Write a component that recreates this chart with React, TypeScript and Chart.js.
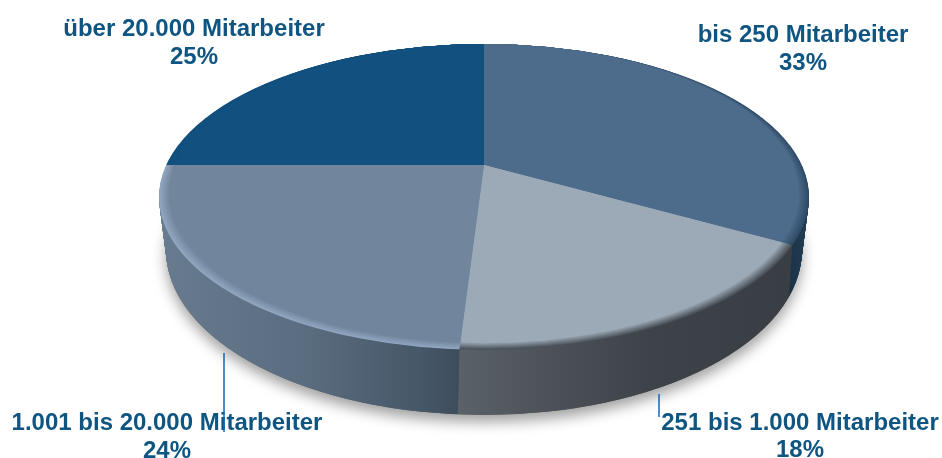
import React, { useEffect, useRef } from "react";
import { Chart, registerables } from "chart.js";

Chart.register(...registerables);

const categories = ["bis 250 Mitarbeiter", "251 bis 1.000 Mitarbeiter", "1.001 bis 20.000 Mitarbeiter", "über 20.000 Mitarbeiter"];
const shares = [33, 18, 24, 25];
const percentLabels = ["33%", "18%", "24%", "25%"];
const topColors = ["#4d6b8a", "#9caab8", "#71869c", "#12507f"];
const bevelColors = ["#2f4c68", "#4a5158", "#90a6c0", "#12507f"];
const wallStops: [number, string][][] = [
  [[780, "#1a2e3e"], [810, "#223e56"]],
  [[458, "#5a6168"], [560, "#4b5056"], [650, "#3d4349"], [790, "#383e44"]],
  [[158, "#687c8f"], [300, "#5b6d80"], [420, "#465768"], [458, "#3e4d5b"]],
  [[158, "#12507f"], [200, "#12507f"]],
];

const W = 942;
const H = 458;
const apex = { x: 484, y: 165 };
const squash = 2.12;
const topE = { x: 484, y: 197, rx: 325, ry: 153 };
const botE = { x: 484, y: 250, rx: 318, ry: 165 };
const bevelInset = 10;
const bevelLift = 3.5;
const labelPlaces = [
  { x: 803, y: 42, dy: 28 },
  { x: 800, y: 430, dy: 27 },
  { x: 167, y: 430, dy: 28 },
  { x: 194, y: 36, dy: 28 },
];
const leaders = [
  { x: 224, y1: 353, y2: 432 },
  { x: 659, y1: 394, y2: 417 },
];

function ellipsePath(ctx: CanvasRenderingContext2D, e: { x: number; y: number; rx: number; ry: number }) {
  ctx.beginPath();
  ctx.ellipse(e.x, e.y, e.rx, e.ry, 0, 0, Math.PI * 2);
}

function toLocal(chart: any) {
  const arc = chart.getDatasetMeta(0).data[0];
  return { cx: arc.x, cy: arc.y };
}

function place(ctx: CanvasRenderingContext2D, chart: any, dy: number) {
  const { cx, cy } = toLocal(chart);
  ctx.translate(apex.x, apex.y + dy);
  ctx.scale(squash, 1);
  ctx.translate(-cx, -cy);
}

function drawArcs(ctx: CanvasRenderingContext2D, chart: any, fills: (string | CanvasGradient)[]) {
  chart.getDatasetMeta(0).data.forEach((arc: any, i: number) => {
    const saved = arc.options;
    arc.options = { ...saved, backgroundColor: fills[i] };
    arc.draw(ctx);
    arc.options = saved;
  });
}

function mix(a: string, b: string, t: number) {
  const p = (s: string, i: number) => parseInt(s.slice(i, i + 2), 16);
  const c = [1, 3, 5].map((i) => Math.round(p(a, i) + (p(b, i) - p(a, i)) * t));
  return `rgb(${c[0]},${c[1]},${c[2]})`;
}

const solidPlugin = {
  id: "solid",
  beforeDatasetsDraw(chart: any) {
    const ctx: CanvasRenderingContext2D = chart.ctx;
    const { cx } = toLocal(chart);
    // ground shadow
    ctx.save();
    ctx.shadowColor = "rgba(0,0,0,0.38)";
    ctx.shadowBlur = 14;
    ctx.shadowOffsetY = 7;
    ctx.fillStyle = "#555";
    ellipsePath(ctx, botE);
    ctx.fill();
    ctx.restore();

    // side wall
    const wallFills = wallStops.map((stops) => {
      const a = stops[0][0];
      const b = stops[stops.length - 1][0];
      const g = ctx.createLinearGradient(cx + (a - apex.x) / squash, 0, cx + (b - apex.x) / squash, 0);
      stops.forEach(([x, c]) => g.addColorStop((x - a) / (b - a), c));
      return g;
    });
    const steps = 70;
    for (let s = steps; s >= 1; s--) {
      const t = s / steps;
      const e = {
        x: topE.x,
        y: topE.y + (botE.y - topE.y) * t,
        rx: topE.rx + (botE.rx - topE.rx) * t,
        ry: topE.ry + (botE.ry - topE.ry) * t,
      };
      ctx.save();
      ellipsePath(ctx, e);
      ctx.clip();
      place(ctx, chart, e.y - topE.y);
      drawArcs(ctx, chart, wallFills);
      ctx.restore();
    }

    // bevel on the rim of the top face
    const rings = 8;
    for (let r = 0; r < rings; r++) {
      const t = r / (rings - 1);
      const e = {
        x: topE.x,
        y: topE.y - bevelLift * t,
        rx: topE.rx - bevelInset * t,
        ry: topE.ry - bevelLift * t,
      };
      ctx.save();
      ellipsePath(ctx, e);
      ctx.clip();
      place(ctx, chart, 0);
      drawArcs(ctx, chart, bevelColors.map((c, i) => mix(c, topColors[i], t)));
      ctx.restore();
    }

    // the top face, drawn by the chart itself
    const inner = { x: topE.x, y: topE.y - bevelLift, rx: topE.rx - bevelInset, ry: topE.ry - bevelLift };
    ctx.save();
    ellipsePath(ctx, inner);
    ctx.clip();
    place(ctx, chart, 0);
  },
  afterDatasetsDraw(chart: any) {
    const ctx: CanvasRenderingContext2D = chart.ctx;
    ctx.restore();
    ctx.save();
    ctx.fillStyle = "#0f5581";
    ctx.textAlign = "center";
    ctx.textBaseline = "alphabetic";
    ctx.font = 'bold 24px "Liberation Sans"';
    categories.forEach((c, i) => {
      const p = labelPlaces[i];
      ctx.fillText(c, p.x, p.y);
      ctx.fillText(percentLabels[i], p.x, p.y + p.dy);
    });
    ctx.strokeStyle = "#1565b0";
    ctx.lineWidth = 1.5;
    leaders.forEach((l) => {
      ctx.beginPath();
      ctx.moveTo(l.x, l.y1);
      ctx.lineTo(l.x, l.y2);
      ctx.stroke();
    });
    ctx.restore();
  },
};

export default function App() {
  const ref = useRef<HTMLCanvasElement>(null);
  useEffect(() => {
    const chart = new Chart(ref.current!, {
      type: "pie",
      data: {
        labels: categories,
        datasets: [{ data: shares, backgroundColor: topColors, borderWidth: 0, clip: false } as any],
      },
      options: {
        responsive: false,
        animation: false,
        layout: { padding: 0 },
        plugins: { legend: { display: false }, tooltip: { enabled: false } },
      },
      plugins: [solidPlugin],
    });
    return () => chart.destroy();
  }, []);
  return (
    <canvas
      ref={ref}
      width={W}
      height={H}
      style={{ position: "absolute", left: 0, top: 0, width: W, height: H, display: "block" }}
    />
  );
}
